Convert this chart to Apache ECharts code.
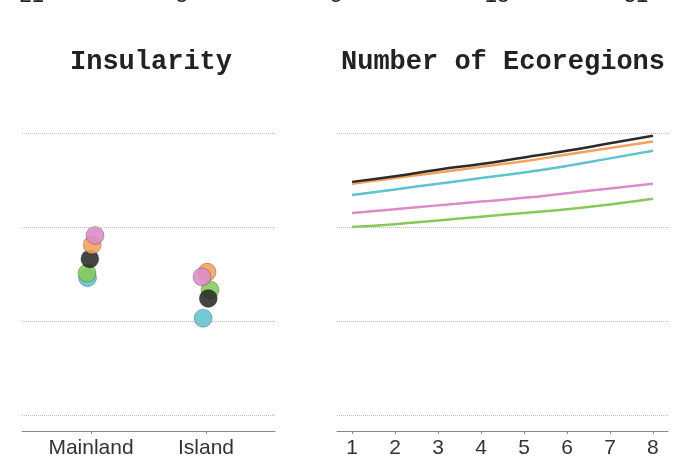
<!DOCTYPE html>
<html>
  <head>
    <meta charset="utf-8" />
    <script src="https://cdn.jsdelivr.net/npm/echarts@6.0.0/dist/echarts.min.js"></script>
  </head>
  <body style="margin:0">
    <div id="main" style="width: 682px;height:469px;"></div>
    <script type="text/javascript">
      var myChart = echarts.init(document.getElementById('main'));

      // cut-off tick labels of the panel above
      const topLabels = ['-21', '-8', '5', '18', '31'];
      const topLabelX = [28, 178, 336, 497, 636];

      // insularity panel
      const groups = ['Mainland', 'Island'];
      const groupPos = [1, 2];
      const insBlack  = [[0.99, 1.66], [2.02, 1.24]];
      const insOrange = [[1.01, 1.81], [2.01, 1.52]];
      const insTeal   = [[0.97, 1.46], [1.975, 1.03]];
      const insPink   = [[1.035, 1.91], [1.965, 1.47]];
      const insGreen  = [[0.965, 1.51], [2.035, 1.33]];

      // number of ecoregions panel
      const ecoX = [1, 2, 3, 4, 5, 6, 7, 8];
      const ecoBlack  = [2.48, 2.54, 2.61, 2.67, 2.74, 2.81, 2.89, 2.97];
      const ecoOrange = [2.46, 2.52, 2.58, 2.64, 2.70, 2.77, 2.84, 2.91];
      const ecoTeal   = [2.34, 2.40, 2.46, 2.52, 2.58, 2.65, 2.73, 2.81];
      const ecoPink   = [2.15, 2.19, 2.23, 2.27, 2.31, 2.36, 2.41, 2.46];
      const ecoGreen  = [2.00, 2.03, 2.07, 2.11, 2.15, 2.19, 2.24, 2.30];

      const gridValues = [0, 1, 2, 3];

      const cBlack = '#2a2a2a', cOrange = '#f4a15c', cTeal = '#5ec3cf',
            cPink = '#dc8bc8', cGreen = '#86c95a';

      const titleFont = { fontFamily: 'Liberation Mono', fontWeight: 'bold', fontSize: 27, color: '#222' };
      const gridLineStyle = { color: '#bbb', type: 'dotted', width: 1 };

      function xAxisBase(grid, min, max, ticks, fmt) {
        return {
          type: 'value', gridIndex: grid, min: min, max: max,
          splitLine: { show: false },
          axisLine: { onZero: false, lineStyle: { color: '#888', width: 1 } },
          axisTick: { show: true, customValues: ticks, length: 3, lineStyle: { color: '#888' } },
          axisLabel: {
            customValues: ticks, margin: 7, color: '#333',
            fontFamily: 'Liberation Sans', fontSize: 21,
            formatter: fmt
          }
        };
      }
      function yAxisBase(grid) {
        return {
          type: 'value', gridIndex: grid, min: -0.17, max: 3.17,
          axisLine: { show: false }, axisTick: { show: false },
          axisLabel: { show: false }, splitLine: { show: false }
        };
      }
      function gridMarks() {
        return {
          silent: true, symbol: 'none', label: { show: false },
          lineStyle: gridLineStyle,
          data: gridValues.map(v => ({ yAxis: v }))
        };
      }
      function pts(name, data, color) {
        return {
          name: name, type: 'scatter', xAxisIndex: 0, yAxisIndex: 0,
          symbolSize: 18, data: data,
          itemStyle: { color: color, opacity: 0.88, borderColor: 'rgba(0,0,0,0.35)', borderWidth: 0.8 }
        };
      }
      function line(name, data, color) {
        return {
          name: name, type: 'line', xAxisIndex: 1, yAxisIndex: 1,
          data: ecoX.map((x, i) => [x, data[i]]),
          showSymbol: false, smooth: true,
          lineStyle: { color: color, width: 2.5 }
        };
      }

      option = {
        animation: false,
        backgroundColor: '#fff',
        title: [
          { text: 'Insularity', left: 146, top: 44, textAlign: 'center', textStyle: titleFont },
          { text: 'Number of Ecoregions', left: 498, top: 44, textAlign: 'center', textStyle: titleFont }
        ],
        graphic: topLabels.map((t, i) => ({
          type: 'text', x: topLabelX[i], y: 7,
          style: { text: t, align: 'center', verticalAlign: 'bottom', fill: '#222',
                   font: '22px "Liberation Sans"' }
        })),
        grid: [
          { left: 22, right: 407, top: 117, bottom: 38 },
          { left: 337, right: 14, top: 117, bottom: 38 }
        ],
        xAxis: [
          xAxisBase(0, 0.4, 2.6, groupPos, v => groups[groupPos.indexOf(v)]),
          xAxisBase(1, 0.65, 8.35, ecoX, v => String(v))
        ],
        yAxis: [yAxisBase(0), yAxisBase(1)],
        series: [
          { type: 'line', xAxisIndex: 0, yAxisIndex: 0, data: [], markLine: gridMarks() },
          { type: 'line', xAxisIndex: 1, yAxisIndex: 1, data: [], markLine: gridMarks() },
          pts('Teal', insTeal, cTeal),
          pts('Green', insGreen, cGreen),
          pts('Black', insBlack, cBlack),
          pts('Orange', insOrange, cOrange),
          pts('Pink', insPink, cPink),
          line('Green', ecoGreen, cGreen),
          line('Pink', ecoPink, cPink),
          line('Teal', ecoTeal, cTeal),
          line('Orange', ecoOrange, cOrange),
          line('Black', ecoBlack, cBlack)
        ]
      };

      myChart.setOption(option);
    </script>
  </body>
</html>
